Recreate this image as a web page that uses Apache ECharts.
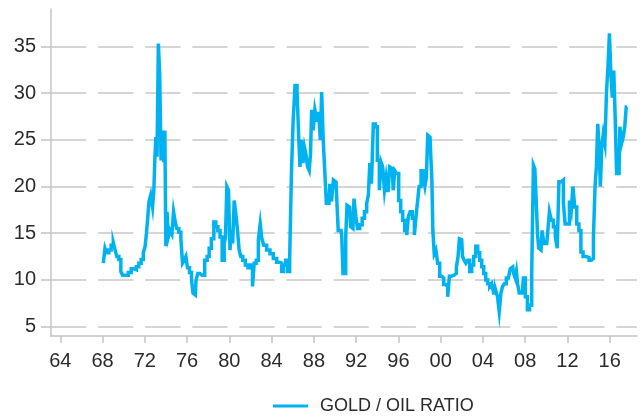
<!DOCTYPE html>
<html>
<head>
<meta charset="utf-8">
<script src="https://cdn.jsdelivr.net/npm/echarts@6/dist/echarts.min.js"></script>
<style>
  html, body { margin: 0; padding: 0; background: #ffffff; }
  #chart { width: 642px; height: 418px; }
</style>
</head>
<body>
<div id="chart"></div>
<script>
// Gold / oil price ratio, sampled dates as decimal years
const years = [
  1968.07,1968.17,1968.29,1968.48,1968.70,1968.92,1969.11,1969.27,1969.43,1969.65,1969.81,1969.97,
  1970.28,1970.60,1970.82,1971.07,1971.32,1971.54,1971.76,1971.95,
  1972.11,1972.24,1972.33,1972.46,1972.65,1972.81,1972.90,1973.00,1973.09,1973.22,1973.34,1973.47,1973.60,1973.72,1973.85,1973.94,
  1974.04,1974.16,1974.29,1974.48,1974.64,1974.80,1974.95,1975.11,1975.33,1975.49,1975.65,1975.81,1975.96,
  1976.12,1976.34,1976.50,1976.62,1976.78,1976.90,1977.12,1977.30,1977.54,1977.79,
  1978.01,1978.17,1978.42,1978.64,1978.80,1979.02,1979.21,1979.43,1979.59,1979.68,1979.84,
  1980.00,1980.12,1980.25,1980.38,1980.53,1980.69,1980.85,1981.00,1981.16,1981.38,1981.64,1981.89,
  1982.11,1982.27,1982.43,1982.65,1982.84,1983.00,1983.15,1983.37,1983.69,
  1984.00,1984.32,1984.63,1984.85,1985.04,1985.23,1985.42,1985.61,1985.80,1985.96,
  1986.12,1986.31,1986.50,1986.62,1986.75,1986.87,1987.06,1987.16,1987.32,1987.48,1987.63,1987.73,1987.85,
  1988.01,1988.17,1988.36,1988.55,1988.67,1988.80,1988.96,1989.12,1989.24,1989.43,1989.59,1989.75,1989.94,
  1990.09,1990.22,1990.38,1990.57,1990.69,1990.82,1990.95,1991.07,1991.20,1991.39,1991.55,1991.70,1991.89,
  1992.05,1992.21,1992.46,1992.68,1992.90,1993.09,1993.22,1993.37,1993.53,1993.72,1993.91,
  1994.10,1994.29,1994.42,1994.60,1994.76,1994.92,1995.11,1995.24,1995.43,1995.58,1995.74,1995.93,
  1996.12,1996.31,1996.50,1996.69,1996.88,1997.00,1997.21,1997.42,1997.60,1997.73,1997.86,
  1998.05,1998.24,1998.43,1998.58,1998.71,1998.84,1998.99,1999.12,1999.21,1999.31,1999.47,1999.62,1999.81,
  2000.00,2000.19,2000.38,2000.57,2000.76,2000.89,2001.14,2001.39,2001.58,2001.71,2001.83,2001.99,
  2002.15,2002.31,2002.46,2002.65,2002.84,2003.03,2003.22,2003.41,2003.60,2003.79,2003.98,
  2004.17,2004.36,2004.55,2004.74,2004.92,2005.11,2005.30,2005.46,2005.62,2005.78,2005.93,
  2006.12,2006.31,2006.50,2006.66,2006.82,2006.98,2007.13,2007.20,2007.36,2007.51,2007.73,2007.92,
  2008.11,2008.30,2008.52,2008.71,2008.84,2008.98,2009.12,2009.22,2009.34,2009.50,2009.69,2009.85,
  2010.04,2010.20,2010.38,2010.57,2010.76,2010.95,2011.11,2011.27,2011.52,2011.71,2011.84,
  2012.09,2012.28,2012.44,2012.59,2012.78,2012.97,2013.19,2013.35,2013.60,2013.92,
  2014.17,2014.36,2014.55,2014.67,2014.80,2014.93,2015.05,2015.18,2015.31,2015.46,2015.62,2015.78,2015.91,
  2016.03,2016.16,2016.32,2016.44,2016.57,2016.73,2016.88,2017.04,2017.20,2017.36,2017.48,2017.64
];

const ratio = [
  11.8,12.3,13.4,12.9,13.2,13.7,14.0,13.2,12.5,12.2,10.9,10.5,
  10.5,10.8,11.2,11.1,11.4,11.8,12.2,12.9,
  13.6,15.3,16.8,18.4,19.1,17.8,19.6,23.0,25.3,23.2,35.3,32.1,22.8,26.0,22.6,26.0,
  13.6,17.3,14.6,15.3,14.9,17.3,16.2,15.5,15.1,14.4,11.8,12.1,12.5,
  11.3,10.8,10.0,8.6,8.4,9.9,10.7,10.5,10.5,12.1,
  12.5,13.4,14.4,16.2,15.7,15.3,14.6,12.1,13.9,14.6,20.0,
  19.6,13.2,15.3,13.9,18.5,17.1,15.3,13.2,12.5,12.1,11.6,11.3,
  11.6,9.3,11.8,12.1,14.3,16.0,14.4,13.7,13.2,
  12.8,12.3,11.9,11.8,10.9,11.6,12.1,10.9,12.1,21.7,
  27.1,30.8,30.3,25.3,22.1,25.0,22.5,24.2,23.5,22.1,21.7,23.5,28.2,
  26.0,28.2,27.1,28.0,25.0,30.1,25.0,21.4,18.2,18.2,20.3,18.4,20.7,
  20.5,18.9,15.3,15.3,14.8,10.7,10.7,14.6,18.0,17.8,15.7,15.5,18.7,
  16.8,15.5,15.9,16.6,17.3,18.2,19.1,22.5,20.3,26.7,26.4,
  22.8,19.6,22.6,22.1,19.6,21.0,19.4,22.1,21.9,19.6,21.7,21.4,
  18.5,17.3,16.4,15.3,14.8,16.8,17.3,16.6,14.8,16.8,18.2,
  20.0,21.7,21.0,20.0,21.0,25.5,25.3,23.5,20.7,15.3,12.8,13.2,11.8,
  10.4,10.2,9.5,9.3,8.2,10.4,10.5,10.7,11.4,12.5,14.4,14.3,
  12.5,12.1,11.8,12.1,10.9,11.6,12.5,13.6,12.9,12.1,11.4,
  10.7,10.0,9.6,9.3,9.6,8.6,8.9,8.2,6.6,8.6,9.3,
  9.6,10.2,10.2,11.2,11.4,10.7,10.2,10.9,9.6,8.6,8.6,10.2,
  8.2,6.8,7.3,10.7,22.3,21.9,18.2,14.8,13.4,13.2,15.3,13.9,
  13.9,15.0,17.3,16.4,15.7,14.6,13.4,20.5,20.7,18.2,16.0,
  16.0,18.5,17.5,20.0,17.8,16.0,15.3,13.0,12.5,12.4,
  12.1,12.3,14.6,20.0,22.1,26.7,24.2,20.0,24.2,25.6,24.6,30.3,33.1,
  36.4,32.4,29.5,32.4,27.8,21.4,21.4,26.4,24.6,25.3,26.4,28.5
];

// Axis ticks and their labels
const xTickYears  = [1964,1968,1972,1976,1980,1984,1988,1992,1996,2000,2004,2008,2012,2016];
const xTickLabels = ['64','68','72','76','80','84','88','92','96','00','04','08','12','16'];
const yTicks = [5,10,15,20,25,30,35];
const seriesName = 'GOLD / OIL RATIO';

const lineColor = '#00b2f0';
const axisColor = '#c4c4c4';
const labelFont = 'Liberation Sans, Arial, sans-serif';

const chart = echarts.init(document.getElementById('chart'), null, { renderer: 'canvas' });

chart.setOption({
  animation: false,
  backgroundColor: '#ffffff',
  grid: { left: 51, right: 5, top: 9, bottom: 82, containLabel: false, outerBoundsMode: 'none' },
  xAxis: {
    type: 'value',
    min: 1963.12,
    max: 2018.58,
    axisLine: { show: true, lineStyle: { color: axisColor, width: 1.5 } },
    axisTick: { show: true, customValues: xTickYears, length: 7, lineStyle: { color: axisColor, width: 1.5 } },
    axisLabel: {
      customValues: xTickYears,
      formatter: v => xTickLabels[xTickYears.indexOf(Math.round(v))],
      fontSize: 20, color: '#2b2b2b', margin: 15, fontFamily: labelFont
    },
    splitLine: { show: false }
  },
  yAxis: {
    type: 'value',
    min: 4,
    max: 39,
    axisLine: { show: true, lineStyle: { color: axisColor, width: 1.5 } },
    axisTick: { show: true, customValues: yTicks, length: 10, lineStyle: { color: axisColor, width: 1.5 } },
    axisLabel: {
      customValues: yTicks,
      fontSize: 20, color: '#2b2b2b', margin: 15, fontFamily: labelFont
    },
    splitLine: { show: true, lineStyle: { color: '#c8c8c8', width: 1.5, type: [35.3, 11.8] } }
  },
  legend: {
    left: 268,
    top: 392,
    icon: 'rect',
    itemWidth: 35,
    itemHeight: 3,
    textStyle: { fontSize: 18, color: '#2b2b2b', fontFamily: labelFont, padding: [0, 0, 0, 7] },
    data: [seriesName]
  },
  series: [{
    type: 'line',
    name: seriesName,
    data: years.map((y, i) => [y, ratio[i]]),
    step: 'middle',
    showSymbol: false,
    symbol: 'none',
    lineStyle: { color: lineColor, width: 3.5, join: 'miter' },
    itemStyle: { color: lineColor }
  }]
});
</script>
</body>
</html>
